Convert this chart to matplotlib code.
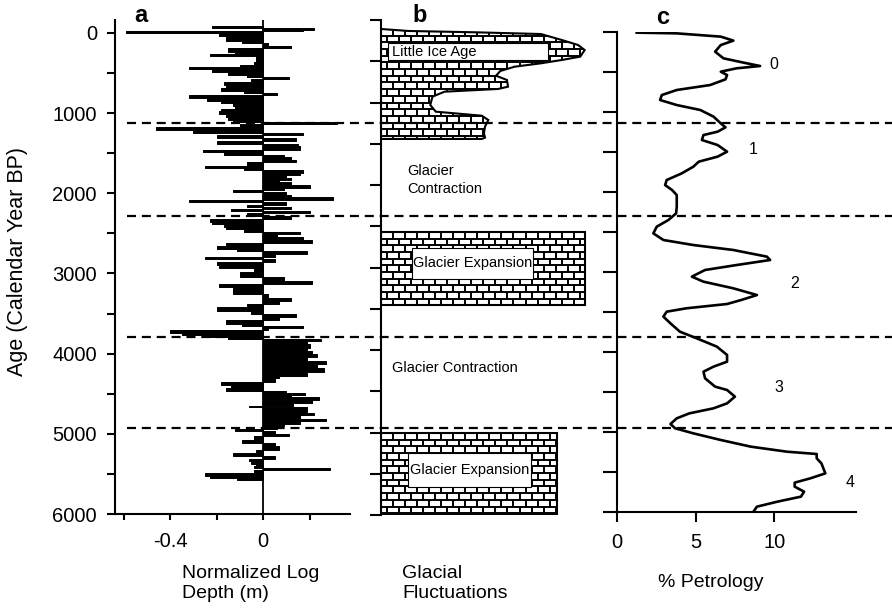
import numpy as np
import matplotlib
matplotlib.use("Agg")
import matplotlib.pyplot as plt
import matplotlib.transforms as mtransforms
from matplotlib.patches import Polygon, Rectangle
from matplotlib.collections import LineCollection
from matplotlib.lines import Line2D

plt.rcParams['font.family'] = ['Liberation Sans', 'DejaVu Sans']
plt.rcParams['lines.scale_dashes'] = False

# ---- panel a: normalized log depth (step series, age BP -> value)
a_age = [-88, -58, -33, -17, 0, 40, 100, 129, 160, 190, 235, 265, 295, 358, 395, 425, 455, 490,
         520, 550, 580, 610, 650, 690, 725, 750, 775, 810, 845, 880, 915, 945, 980, 1015, 1050,
         1085, 1110, 1140, 1180, 1215, 1245, 1275, 1315, 1350, 1385, 1415, 1460, 1490, 1520,
         1550, 1580, 1615, 1655, 1685, 1715, 1745, 1775, 1805, 1835, 1865, 1895, 1935, 1965,
         1990, 2020, 2050, 2080, 2115, 2145, 2170, 2200, 2220, 2245, 2285, 2320, 2355, 2385,
         2415, 2450, 2480, 2510, 2540, 2580, 2625, 2655, 2690, 2720, 2755, 2790, 2825, 2860,
         2900, 2935, 2985, 3040, 3095, 3135, 3175, 3220, 3260, 3310, 3345, 3385, 3425, 3470,
         3500, 3540, 3580, 3625, 3655, 3685, 3710, 3740, 3765, 3790, 3815, 3845, 3885, 3930,
         3970, 4005, 4045, 4095, 4135, 4185, 4235, 4280, 4310, 4350, 4390, 4425, 4460, 4490,
         4520, 4545, 4580, 4615, 4650, 4665, 4700, 4740, 4770, 4810, 4840, 4875, 4905, 4935,
         4965, 5000, 5030, 5080, 5115, 5155, 5200, 5245, 5280, 5310, 5340, 5375, 5405, 5425,
         5455, 5490, 5525, 5550, 5570]
a_val = [-0.22, 0.22, 0.17, -0.59, -0.19, -0.16, -0.09, 0.02, 0.12, -0.15, -0.12, -0.23, -0.03,
         -0.04, -0.10, -0.32, -0.22, -0.15, -0.07, 0.11, -0.05, -0.17, -0.16, -0.18, -0.08, 0.06,
         -0.32, -0.24, -0.18, -0.13, -0.12, -0.18, -0.19, -0.16, -0.15, -0.13, 0.32, -0.10,
         -0.46, -0.30, 0.17, -0.20, 0.14, -0.20, 0.15, 0.16, -0.26, -0.17, 0.09, 0.12, 0.14,
         -0.07, -0.25, -0.08, 0.17, 0.16, 0.10, 0.12, 0.07, 0.12, 0.20, 0.09, -0.13, 0.10, 0.12,
         0.30, -0.32, 0.10, -0.07, 0.12, -0.14, 0.20, -0.07, 0.12, -0.23, -0.22, -0.17, -0.16,
         -0.08, 0.16, 0.06, 0.17, 0.21, -0.16, -0.20, -0.11, 0.19, 0.05, -0.25, 0.05, -0.20,
         -0.19, -0.04, -0.10, 0.09, 0.21, -0.19, -0.13, -0.13, 0.02, 0.12, 0.07, -0.07, -0.20,
         -0.05, 0.14, 0.07, -0.16, -0.09, 0.17, 0.02, -0.40, -0.35, -0.23, -0.15, 0.25, 0.19,
         0.20, 0.19, 0.21, 0.23, 0.19, 0.27, 0.23, 0.26, 0.19, 0.07, 0.05, -0.18, -0.14, -0.16,
         0.10, 0.18, 0.12, 0.24, 0.21, 0.13, -0.06, 0.19, 0.19, 0.22, 0.16, 0.27, 0.16, 0.09,
         0.06, -0.12, 0.05, 0.11, -0.04, -0.09, 0.05, 0.07, -0.03, -0.13, 0.05, -0.06, -0.05,
         -0.03, -0.04, 0.29, -0.04, -0.25, -0.23, -0.11, 0.0]

# ---- panel b: glacial fluctuations
lia_age = [109, 133, 149, 170, 242, 303, 364, 444, 485, 525, 566, 618, 675, 727, 808, 836,
           869, 929, 1030, 1111, 1160, 1212, 1293, 1373, 1426, 1442, 1442]
lia_width = [0.0, 0.125, 0.43, 0.73, 0.825, 0.90, 0.93, 0.91, 0.825, 0.73, 0.61, 0.545, 0.525,
             0.575, 0.58, 0.535, 0.29, 0.235, 0.225, 0.25, 0.46, 0.49, 0.475, 0.47, 0.475,
             0.46, 0.0]
expansion_start = [2569, 5006]
expansion_end = [3454, 6000]
expansion_width = [0.93, 0.804]
label_boxes = [(0.03, 0.763, 283, 485), (0.142, 0.694, 2763, 3139), (0.123, 0.685, 5248, 5660)]
box_texts = ["Little Ice Age", "Glacier Expansion", "Glacier Expansion"]

# ---- panel c: % petrology
c_age = [8, 17, 58, 108, 163, 246, 329, 383, 425, 454, 496, 538, 592, 663, 725, 788, 850, 913,
         975, 1058, 1142, 1192, 1246, 1288, 1350, 1413, 1496, 1558, 1621, 1683, 1767, 1850, 1913,
         1975, 2038, 2183, 2267, 2350, 2433, 2517, 2600, 2663, 2725, 2808, 2850, 2913, 2975,
         3058, 3121, 3204, 3288, 3350, 3400, 3454, 3496, 3558, 3642, 3746, 3829, 3933, 4037,
         4121, 4183, 4246, 4329, 4433, 4475, 4558, 4642, 4704, 4767, 4829, 4900, 4954, 5017,
         5100, 5183, 5246, 5275, 5329, 5392, 5517, 5579, 5633, 5683, 5746, 5808, 5871, 5933, 5990]
c_pct = [1.25, 3.8, 6.6, 7.4, 6.6, 6.24, 6.77, 8.05, 9.1, 7.6, 6.6, 7.0, 6.9, 5.92, 3.8, 2.85,
         2.74, 3.8, 5.3, 6.14, 6.6, 6.9, 6.4, 5.5, 5.4, 6.4, 7.0, 6.4, 5.2, 4.86, 4.12, 3.16, 3.06,
         3.5, 3.8, 3.8, 3.76, 3.27, 2.53, 2.31, 2.95, 4.86, 7.4, 9.53, 9.74, 7.6, 5.6, 4.76, 5.5,
         7.4, 8.9, 7.9, 7.0, 4.4, 3.16, 2.95, 3.4, 4.0, 5.07, 6.35, 7.0, 7.0, 6.14, 5.5, 5.6, 6.24,
         7.0, 7.5, 7.0, 6.14, 4.6, 3.8, 3.4, 3.7, 4.86, 6.6, 8.5, 10.8, 12.7, 12.7, 13.0, 13.25,
         12.3, 11.3, 11.3, 11.9, 11.7, 10.2, 8.9, 8.7]
zone_names = ["0", "1", "2", "3", "4"]
zone_x = [10.0, 8.64, 11.3, 10.3, 14.8]
zone_age = [412, 1467, 3142, 4442, 5629]

boundaries = [1125, 2290, 3790, 4925]


def px_axes(fig, left, top, right, bottom):
    W, H = 892, 610
    return fig.add_axes([left / W, 1 - bottom / H, (right - left) / W, (bottom - top) / H])


def brick_fill(ax, xy, row_h, brick_w):
    patch = Polygon(xy, closed=True, facecolor='white', edgecolor='black', lw=1.5, zorder=1)
    ax.add_patch(patch)
    xy = np.asarray(xy)
    x0, x1 = xy[:, 0].min(), xy[:, 0].max()
    y0, y1 = xy[:, 1].min(), xy[:, 1].max()
    segs = []
    y, r = y0, 0
    while y < y1:
        segs.append([(x0, y), (x1, y)])
        x = x0 + (r % 2) * brick_w / 2
        while x < x1:
            segs.append([(x, y), (x, y + row_h)])
            x += brick_w
        y += row_h
        r += 1
    lc = LineCollection(segs, colors='black', linewidths=1.4, zorder=2)
    ax.add_collection(lc)
    lc.set_clip_path(patch)


fig = plt.figure(figsize=(8.92, 6.10), dpi=100)
ax_a = px_axes(fig, 115, 20, 350, 514)
ax_b = px_axes(fig, 381, 20, 600, 515)
ax_c = px_axes(fig, 617, 32, 856, 512)

# panel a
ages = np.array(a_age, dtype=float)
vals = np.array(a_val)
ax_a.fill_betweenx(ages, 0, vals, step='post', facecolor='black', edgecolor='black', lw=0.7)
ax_a.axvline(0, color='black', lw=1.3)
ax_a.set_xlim(-0.637, 0.374)
ax_a.set_ylim(6000, -160)
ax_a.set_yticks(np.arange(0, 6001, 1000))
ax_a.set_yticks(np.arange(500, 6000, 1000), minor=True)
ax_a.set_xticks([-0.6, -0.4, -0.2, 0, 0.2])
ax_a.set_xticklabels(['', '-0.4', '', '0', ''])
ax_a.tick_params(axis='y', which='both', length=6, width=1.5, pad=7, labelsize=14.5)
ax_a.tick_params(axis='x', length=4, width=1.5, pad=9, labelsize=14.5)
for s in ['top', 'right']:
    ax_a.spines[s].set_visible(False)
for s in ['left', 'bottom']:
    ax_a.spines[s].set_linewidth(1.5)

# panel b
ax_b.set_xlim(0, 1)
ax_b.set_ylim(6000, 0)
row_h, brick_w = 81, 0.055
brick_fill(ax_b, list(zip(lia_width, lia_age)), row_h, brick_w)
for a0, a1, w in zip(expansion_start, expansion_end, expansion_width):
    brick_fill(ax_b, [(0, a0), (w, a0), (w, a1), (0, a1)], row_h, brick_w)
for (bx0, bx1, by0, by1), t in zip(label_boxes, box_texts):
    ax_b.add_patch(Rectangle((bx0, by0), bx1 - bx0, by1 - by0, facecolor='white',
                             edgecolor='black', lw=0.8, zorder=3))
    if t == "Little Ice Age":
        ax_b.text(bx0 + 0.02, (by0 + by1) / 2, t, ha='left', va='center', fontsize=10.5, zorder=4)
    else:
        ax_b.text((bx0 + bx1) / 2, (by0 + by1) / 2, t, ha='center', va='center',
                  fontsize=10.5, zorder=4)
ax_b.text(0.119, 1939, "Glacier\nContraction", ha='left', va='center', fontsize=10.5,
          linespacing=1.35)
ax_b.text(0.05, 4218, "Glacier Contraction", ha='left', va='center', fontsize=10.5)
ax_b.set_yticks(np.arange(0, 6001, 500))
ax_b.set_yticklabels([])
ax_b.set_xticks([])
ax_b.tick_params(axis='y', length=8, width=1.5)
for s in ['top', 'right', 'bottom']:
    ax_b.spines[s].set_visible(False)
ax_b.spines['left'].set_linewidth(1.5)
ax_b.patch.set_alpha(0)

# panel c
ax_c.plot(c_pct, c_age, color='black', lw=1.9)
for name, x, y in zip(zone_names, zone_x, zone_age):
    ax_c.text(x, y, name, ha='center', va='center', fontsize=11.5)
ax_c.set_xlim(0, 15.2)
ax_c.set_ylim(6000, 0)
ax_c.set_yticks(np.arange(0, 6001, 500))
ax_c.set_yticklabels([])
ax_c.set_xticks([0, 5, 10])
ax_c.tick_params(axis='y', length=10, width=1.5)
ax_c.tick_params(axis='x', length=7, width=1.5, pad=8, labelsize=14.5)
for s in ['top', 'right']:
    ax_c.spines[s].set_visible(False)
for s in ['left', 'bottom']:
    ax_c.spines[s].set_linewidth(1.5)
ax_c.patch.set_alpha(0)

# dashed zone boundaries across the panels
trans = mtransforms.blended_transform_factory(fig.transFigure, ax_a.transData)
for b in boundaries:
    fig.add_artist(Line2D([127 / 892, 1.0], [b, b], transform=trans, color='black',
                          lw=1.6, linestyle=(0, (6.5, 4.2)), zorder=5))

# labels
fig.text(141 / 892, 1 - 15 / 610, "a", fontsize=17, fontweight='bold', ha='center', va='center')
fig.text(420 / 892, 1 - 15 / 610, "b", fontsize=17, fontweight='bold', ha='center', va='center')
fig.text(663 / 892, 1 - 17 / 610, "c", fontsize=17, fontweight='bold', ha='center', va='center')
fig.text(18 / 892, 1 - 262 / 610, "Age (Calendar Year BP)", rotation=90, ha='center',
         va='center', fontsize=15.5)
fig.text(182 / 892, 1 - 565 / 610, "Normalized Log\nDepth (m)", ha='left', va='top',
         fontsize=14, linespacing=1.25)
fig.text(402 / 892, 1 - 565 / 610, "Glacial\nFluctuations", ha='left', va='top',
         fontsize=14, linespacing=1.25)
fig.text(658 / 892, 1 - 574 / 610, "% Petrology", ha='left', va='top', fontsize=14)

fig.savefig("out.png", dpi=100)
